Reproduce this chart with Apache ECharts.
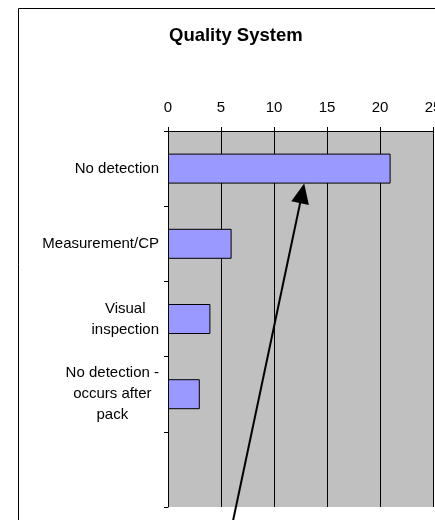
<!DOCTYPE html>
<html>
<head>
<meta charset="utf-8">
<script src="https://cdn.jsdelivr.net/npm/echarts@6/dist/echarts.min.js"></script>
<style>html,body{margin:0;padding:0;background:#fff;}#c{width:435px;height:520px;}</style>
</head>
<body>
<div id="c"></div>
<script>
var categories = ['No detection', 'Measurement/CP', 'Visual\ninspection', 'No detection -\noccurs after\npack', ''];
var values = [21, 6, 4, 3, null];
var valueTicks = [0, 5, 10, 15, 20, 25];
var titleText = 'Quality System';
// annotation arrow: tip at value 12.85 on the bottom edge of the first bar, tail below the chart
var arrowTipValue = 12.85;
var arrowTailValue = 6.05;

var FONT = 'Arial, "Liberation Sans", sans-serif';
var chart = echarts.init(document.getElementById('c'), null, {renderer: 'canvas'});
var BAR_W = 30;

var option = {
  animation: false,
  backgroundColor: '#fff',
  title: {
    text: titleText,
    left: 164, top: 21,
    textStyle: {fontFamily: FONT, fontSize: 18.5, fontWeight: 'bold', color: '#000'}
  },
  grid: {
    left: 168, right: 2, top: 131, bottom: 13,
    outerBoundsMode: 'none', containLabel: false,
    show: true, backgroundColor: '#C0C0C0', borderWidth: 0
  },
  xAxis: {
    type: 'value', position: 'top',
    min: valueTicks[0], max: valueTicks[valueTicks.length - 1], interval: valueTicks[1] - valueTicks[0],
    axisLine: {show: true, lineStyle: {color: '#000', width: 1}},
    axisTick: {show: true, length: 4, lineStyle: {color: '#000'}},
    splitLine: {show: true, lineStyle: {color: '#000', width: 1}},
    axisLabel: {fontFamily: FONT, fontSize: 15, color: '#000', margin: 16, hideOverlap: false}
  },
  yAxis: {
    type: 'category', inverse: true, data: categories,
    axisLine: {show: true, lineStyle: {color: '#000', width: 1}},
    axisTick: {show: true, length: 4, lineStyle: {color: '#000'}},
    splitLine: {show: false},
    axisLabel: {
      margin: 9, color: '#000', fontFamily: FONT, fontSize: 15, lineHeight: 21,
      formatter: function (v) {
        return v.split('\n').map(function (l) { return '{c|' + l + '}'; }).join('\n');
      },
      rich: {c: {align: 'center', fontFamily: FONT, fontSize: 15, lineHeight: 21, color: '#000'}}
    }
  },
  series: [{
    type: 'bar', data: values, barWidth: BAR_W,
    itemStyle: {color: '#9999FF', borderColor: '#000', borderWidth: 1}
  }]
};
chart.setOption(option);

function drawExtras() {
  var tipCenter = chart.convertToPixel({gridIndex: 0}, [arrowTipValue, 0]);
  var tip = [tipCenter[0], tipCenter[1] + BAR_W / 2];
  var tailX = chart.convertToPixel({gridIndex: 0}, [arrowTailValue, 0])[0];
  var tail = [tailX, 525];
  var dx = tip[0] - tail[0], dy = tip[1] - tail[1];
  var len = Math.sqrt(dx * dx + dy * dy);
  var ux = dx / len, uy = dy / len;
  var hl = 20, hw = 9;
  var bx = tip[0] - ux * hl, by = tip[1] - uy * hl;
  var px = -uy, py = ux;
  chart.setOption({
    graphic: [
      {type: 'rect', shape: {x: 18.5, y: 8.5, width: 440, height: 530}, style: {fill: 'none', stroke: '#000', lineWidth: 1}, silent: true},
      {type: 'line', shape: {x1: tail[0], y1: tail[1], x2: bx + ux * 2, y2: by + uy * 2}, style: {stroke: '#000', lineWidth: 2}, silent: true},
      {type: 'polygon', shape: {points: [tip, [bx + px * hw, by + py * hw], [bx - px * hw, by - py * hw]]}, style: {fill: '#000'}, silent: true}
    ]
  });
}
drawExtras();
</script>
</body>
</html>
